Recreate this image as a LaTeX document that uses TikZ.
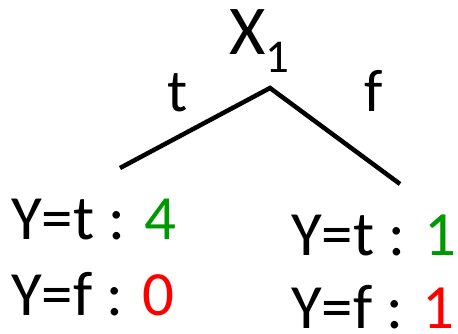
\documentclass[tikz,border=0pt]{standalone}
\usepackage{fontspec}
\setmainfont{Carlito}
\definecolor{cntgreen}{RGB}{0,153,0}
\definecolor{cntred}{RGB}{255,0,0}
\tikzset{
  cnt/.style={inner sep=0pt,anchor=base west,font=\fontsize{63}{70}\selectfont},
  edgelbl/.style={inner sep=0pt,anchor=base,font=\fontsize{60}{66}\selectfont},
  branch/.style={line width=4.5pt}
}
\begin{document}
\begin{tikzpicture}[x=1pt,y=-1pt]
    \useasboundingbox (0,0) rectangle (458,334);

    % split node
    \node[inner sep=0pt,anchor=base west,font=\fontsize{70}{76}\selectfont] (root) at (229,55)
        {X\raisebox{-18pt}{\fontsize{47}{50}\selectfont 1}};
    \coordinate (top) at (270,88);
    \coordinate (lend) at (120,168);
    \coordinate (rend) at (400,184);

    % branches
    \draw[branch] (lend) -- (top) -- (rend);
    \node[edgelbl] (tlbl) at (177.5,112) {t};
    \node[edgelbl] (flbl) at (374,112) {f};

    % counts
    \node[cnt] (lt) at (11,239) {Y=t : \textcolor{cntgreen}{4}};
    \node[cnt] (lf) at (11,315) {Y=f : \textcolor{cntred}{0}};
    \node[cnt] (rt) at (291,255) {Y=t : \textcolor{cntgreen}{1}};
    \node[cnt] (rf) at (291,328) {Y=f : \textcolor{cntred}{1}};
\end{tikzpicture}
\end{document}
